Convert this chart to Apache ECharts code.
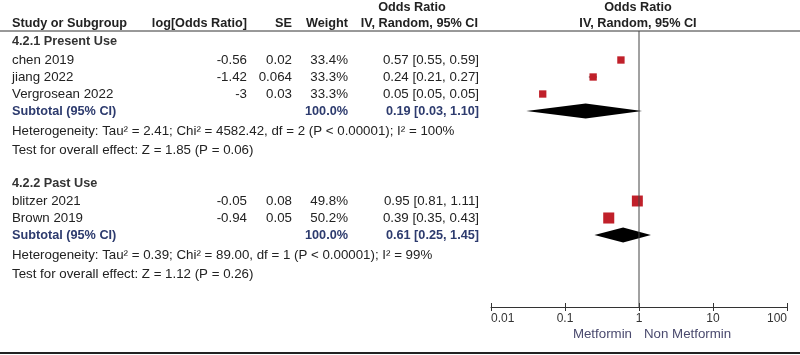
<!DOCTYPE html>
<html>
<head>
<meta charset="utf-8">
<script src="https://cdn.jsdelivr.net/npm/echarts@6/dist/echarts.min.js"></script>
<style>
  html, body { margin: 0; padding: 0; background: #fff; }
  #chart { width: 800px; height: 355px; }
</style>
</head>
<body>
<div id="chart"></div>
<script>
// 研究数据
const studies = ['chen 2019', 'jiang 2022', 'Vergrosean 2022', 'blitzer 2021', 'Brown 2019'];
const logOR = [-0.56, -1.42, -3, -0.05, -0.94];
const seVals = [0.02, 0.064, 0.03, 0.08, 0.05];
const weights = [33.4, 33.3, 33.3, 49.8, 50.2];
const orVals = [0.57, 0.24, 0.05, 0.95, 0.39];
const orLo = [0.55, 0.21, 0.05, 0.81, 0.35];
const orHi = [0.59, 0.27, 0.05, 1.11, 0.43];

// 亚组汇总
const groupNames = ['4.2.1 Present Use', '4.2.2 Past Use'];
const subOR = [0.19, 0.61];
const subLo = [0.03, 0.25];
const subHi = [1.10, 1.45];
const heteroText = [
    'Heterogeneity: Tau\u00b2 = 2.41; Chi\u00b2 = 4582.42, df = 2 (P < 0.00001); I\u00b2 = 100%',
    'Heterogeneity: Tau\u00b2 = 0.39; Chi\u00b2 = 89.00, df = 1 (P < 0.00001); I\u00b2 = 99%'
];
const effectText = [
    'Test for overall effect: Z = 1.85 (P = 0.06)',
    'Test for overall effect: Z = 1.12 (P = 0.26)'
];

const tickLabels = ['0.01', '0.1', '1', '10', '100'];
const favourLeft = 'Metformin';
const favourRight = 'Non Metformin';

// 布局（像素行位置）
const gridTop = 31;
const gridBottom = 307;
const groupRowY = [41, 183];
const studyRowY = [60, 77, 94, 201, 218];
const subRowY = [111, 235];
const heteroRowY = [131, 255];
const effectRowY = [150, 274];

const FONT = '"Liberation Sans", Arial, sans-serif';
const textColor = '#222';
const subColor = '#2d3b6e';

function txt(x, y, s, align, opt) {
    opt = opt || {};
    return {
        type: 'text', x: x, y: y, silent: true,
        style: {
            text: s,
            textAlign: align || 'left',
            textVerticalAlign: 'middle',
            font: opt.bold ? ('bold 12.7px ' + FONT) : ('13.3px ' + FONT),
            fill: opt.color || textColor
        }
    };
}

const fmt = v => v.toFixed(2);

var graphics = [];
// 表头
graphics.push(txt(412, 7, 'Odds Ratio', 'center', {bold: true}));
graphics.push(txt(638, 7, 'Odds Ratio', 'center', {bold: true}));
graphics.push(txt(12, 23, 'Study or Subgroup', 'left', {bold: true}));
graphics.push(txt(247, 23, 'log[Odds Ratio]', 'right', {bold: true}));
graphics.push(txt(292, 23, 'SE', 'right', {bold: true}));
graphics.push(txt(348, 23, 'Weight', 'right', {bold: true}));
graphics.push(txt(478, 23, 'IV, Random, 95% CI', 'right', {bold: true}));
graphics.push(txt(638, 23, 'IV, Random, 95% CI', 'center', {bold: true}));
graphics.push({type: 'line', silent: true, shape: {x1: 0, y1: gridTop, x2: 800, y2: gridTop},
    style: {stroke: '#333', lineWidth: 1}});
graphics.push({type: 'line', silent: true, shape: {x1: 0, y1: 353, x2: 800, y2: 353},
    style: {stroke: '#222', lineWidth: 2}});

studies.forEach(function (name, i) {
    var y = studyRowY[i];
    graphics.push(txt(12, y, name));
    graphics.push(txt(247, y, String(logOR[i]), 'right'));
    graphics.push(txt(292, y, String(seVals[i]), 'right'));
    graphics.push(txt(348, y, weights[i].toFixed(1) + '%', 'right'));
    graphics.push(txt(479, y, fmt(orVals[i]) + ' [' + fmt(orLo[i]) + ', ' + fmt(orHi[i]) + ']', 'right'));
});

groupNames.forEach(function (g, k) {
    graphics.push(txt(12, groupRowY[k], g, 'left', {bold: true, color: '#333'}));
    graphics.push(txt(12, subRowY[k], 'Subtotal (95% CI)', 'left', {bold: true, color: subColor}));
    graphics.push(txt(348, subRowY[k], '100.0%', 'right', {bold: true, color: subColor}));
    graphics.push(txt(479, subRowY[k], fmt(subOR[k]) + ' [' + fmt(subLo[k]) + ', ' + fmt(subHi[k]) + ']', 'right', {bold: true, color: subColor}));
    graphics.push(txt(12, heteroRowY[k], heteroText[k]));
    graphics.push(txt(12, effectRowY[k], effectText[k]));
});

graphics.push(txt(632, 334, favourLeft, 'right', {color: '#4a4a6e'}));
graphics.push(txt(644, 334, favourRight, 'left', {color: '#4a4a6e'}));

var studyData = studies.map(function (s, i) {
    return [orVals[i], orLo[i], orHi[i], studyRowY[i] - gridTop, weights[i]];
});
var subData = subOR.map(function (v, k) {
    return [v, subLo[k], subHi[k], subRowY[k] - gridTop];
});

var myChart = echarts.init(document.getElementById('chart'), null, {renderer: 'canvas'});

var option = {
    animation: false,
    backgroundColor: '#fff',
    grid: {left: 491, right: 13, top: gridTop, bottom: 355 - gridBottom, containLabel: false},
    xAxis: [{
        type: 'log',
        logBase: 10,
        min: 0.01,
        max: 100,
        position: 'bottom',
        splitLine: {show: false},
        axisLine: {onZero: false, lineStyle: {color: '#333', width: 1}},
        axisTick: {length: 4, lineStyle: {color: '#333'}},
        axisLabel: {
            margin: 6,
            color: '#333',
            fontSize: 12,
            fontFamily: FONT,
            alignMinLabel: 'left',
            alignMaxLabel: 'right',
            formatter: function (v) {
                var idx = Math.round(Math.log10(v)) + 2;
                return tickLabels[idx] || '';
            }
        }
    }, {
        type: 'log',
        logBase: 10,
        min: 0.01,
        max: 100,
        position: 'bottom',
        splitLine: {show: false},
        axisLine: {show: false, onZero: false},
        axisTick: {inside: true, length: 4, lineStyle: {color: '#333'}},
        axisLabel: {show: false}
    }],
    yAxis: {
        type: 'value',
        min: 0,
        max: gridBottom - gridTop,
        inverse: true,
        show: false
    },
    series: [{
        // 无效线 OR = 1
        type: 'line',
        silent: true,
        symbol: 'none',
        lineStyle: {color: '#444', width: 1},
        data: [[1, 0], [1, gridBottom - gridTop]]
    }, {
        type: 'custom',
        silent: true,
        renderItem: function (params, api) {
            var c = api.coord([api.value(0), api.value(3)]);
            var lo = api.coord([api.value(1), api.value(3)]);
            var hi = api.coord([api.value(2), api.value(3)]);
            var s = api.value(4) * 0.22;
            return {
                type: 'group',
                children: [{
                    type: 'line',
                    shape: {x1: lo[0], y1: c[1], x2: hi[0], y2: c[1]},
                    style: {stroke: '#333', lineWidth: 1}
                }, {
                    type: 'rect',
                    shape: {x: c[0] - s / 2, y: c[1] - s / 2, width: s, height: s},
                    style: {fill: '#c0202a'}
                }]
            };
        },
        data: studyData
    }, {
        type: 'custom',
        silent: true,
        renderItem: function (params, api) {
            var c = api.coord([api.value(0), api.value(3)]);
            var lo = api.coord([api.value(1), api.value(3)]);
            var hi = api.coord([api.value(2), api.value(3)]);
            var h = 7.5;
            return {
                type: 'polygon',
                shape: {points: [[lo[0], c[1]], [c[0], c[1] - h], [hi[0], c[1]], [c[0], c[1] + h]]},
                style: {fill: '#000'}
            };
        },
        data: subData
    }],
    graphic: graphics
};
myChart.setOption(option);
</script>
</body>
</html>
